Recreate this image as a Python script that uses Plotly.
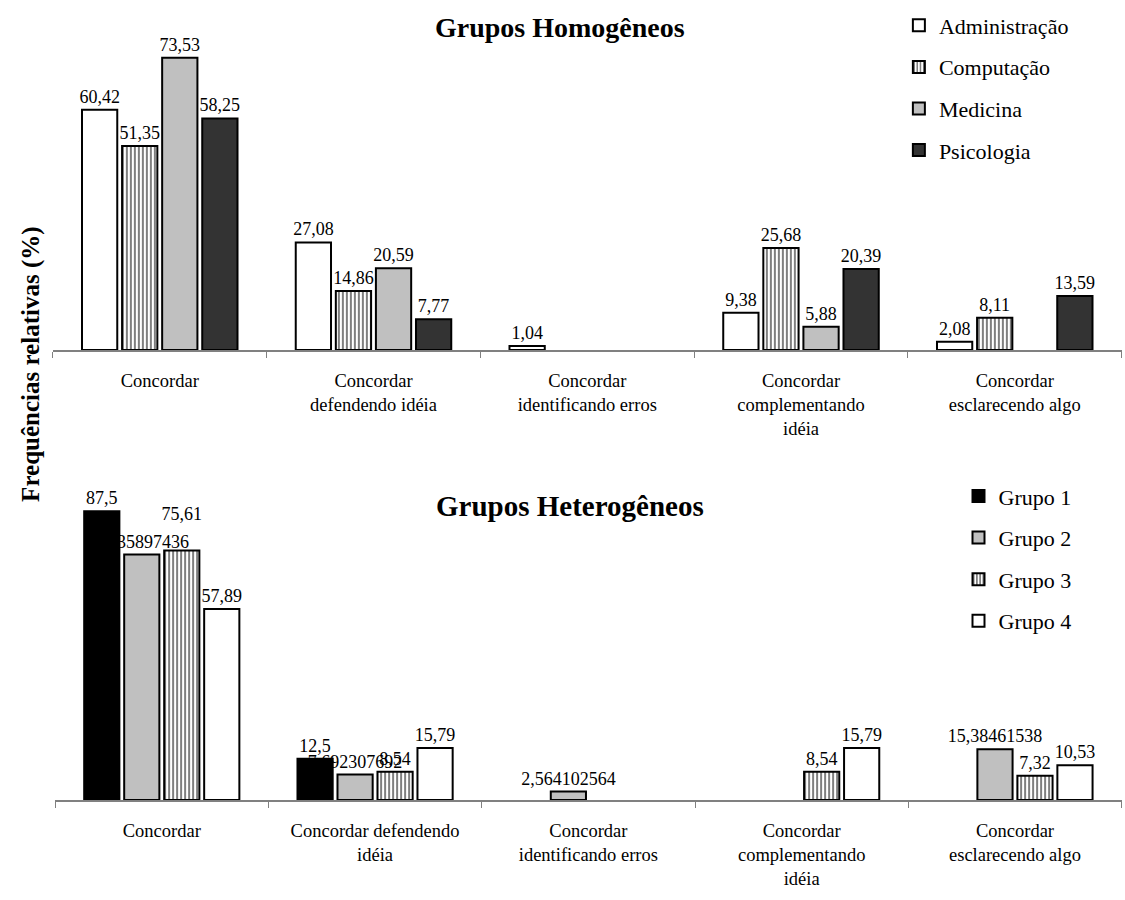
import plotly.graph_objects as go

# Categories (tick labels) for each panel
cat_homog = ["Concordar", "Concordar<br>defendendo idéia", "Concordar<br>identificando erros",
             "Concordar<br>complementando<br>idéia", "Concordar<br>esclarecendo algo"]
cat_heter = ["Concordar", "Concordar defendendo<br>idéia", "Concordar<br>identificando erros",
             "Concordar<br>complementando<br>idéia", "Concordar<br>esclarecendo algo"]

# Homogeneous groups (relative frequencies, %)
administracao = [60.42, 27.08, 1.04, 9.38, 2.08]
computacao = [51.35, 14.86, None, 25.68, 8.11]
medicina = [73.53, 20.59, None, 5.88, None]
psicologia = [58.25, 7.77, None, 20.39, 13.59]

# Heterogeneous groups (relative frequencies, %)
grupo1 = [87.5, 12.5, None, None, None]
grupo2 = [74.35897436, 7.692307692, 2.564102564, None, 15.38461538]
grupo3 = [75.61, 8.54, None, 8.54, 7.32]
grupo4 = [57.89, 15.79, None, 15.79, 10.53]

# Value labels lifted one extra line above their bar to clear a neighbour
LIFTED = {("Grupo 3", 0)}

SERIF = "Liberation Serif, Times New Roman, serif"


def labels(name, vals):
    out = []
    for i, v in enumerate(vals):
        if v is None:
            out.append("")
            continue
        s = str(v).replace(".", ",")
        if (name, i) in LIFTED:
            s += "<br> "
        out.append(s)
    return out


def solid(color):
    return dict(color=color, line=dict(color="black", width=2))


def striped():
    return dict(color="white", line=dict(color="black", width=2),
                pattern=dict(shape="|", fgcolor="black", bgcolor="white", size=4, solidity=0.5))


fig = go.Figure()

top_series = [("Administração", administracao, solid("white")),
              ("Computação", computacao, striped()),
              ("Medicina", medicina, solid("#c0c0c0")),
              ("Psicologia", psicologia, solid("#333333"))]
for name, vals, marker in top_series:
    fig.add_trace(go.Bar(x=cat_homog, y=vals, name=name, marker=marker,
                         text=labels(name, vals), textposition="outside",
                         textfont=dict(family=SERIF, size=18, color="black"),
                         constraintext="none", cliponaxis=False,
                         xaxis="x", yaxis="y", legend="legend", legendgroup=name))

bottom_series = [("Grupo 1", grupo1, solid("black")),
                 ("Grupo 2", grupo2, solid("#c0c0c0")),
                 ("Grupo 3", grupo3, striped()),
                 ("Grupo 4", grupo4, solid("white"))]
for name, vals, marker in bottom_series:
    fig.add_trace(go.Bar(x=cat_heter, y=vals, name=name, marker=marker,
                         text=labels(name, vals), textposition="outside",
                         textfont=dict(family=SERIF, size=18, color="black"),
                         constraintext="none", cliponaxis=False,
                         xaxis="x2", yaxis="y2", legend="legend2", legendgroup=name))

xaxis_common = dict(type="category", showline=True, linecolor="#808080", linewidth=2,
                    ticks="outside", tickson="boundaries", ticklen=6, tickcolor="#808080",
                    ticklabelstandoff=13, showgrid=False, zeroline=False,
                    tickfont=dict(family=SERIF, size=18.5, color="black"))
yaxis_common = dict(showgrid=False, zeroline=False, showticklabels=False, showline=False, ticks="")

fig.update_layout(
    width=1125, height=900,
    margin=dict(l=0, r=0, t=0, b=0),
    paper_bgcolor="white", plot_bgcolor="white",
    barmode="group", bargap=0.25, bargroupgap=0.12,
    xaxis=dict(domain=[0.047, 0.997], anchor="y", **xaxis_common),
    yaxis=dict(domain=[0.6111, 0.9644], range=[0, 80], anchor="x", **yaxis_common),
    xaxis2=dict(domain=[0.049, 0.997], anchor="y2", **xaxis_common),
    yaxis2=dict(domain=[0.1111, 0.4778], range=[0, 100], anchor="x2", **yaxis_common),
    legend=dict(x=0.799, y=0.995, xanchor="left", yanchor="top", tracegroupgap=10,
                font=dict(family=SERIF, size=22, color="black"), bgcolor="rgba(0,0,0,0)",
                itemwidth=30),
    legend2=dict(x=0.852, y=0.472, xanchor="left", yanchor="top", tracegroupgap=10,
                 font=dict(family=SERIF, size=22, color="black"), bgcolor="rgba(0,0,0,0)",
                 itemwidth=30),
    annotations=[
        dict(text="<b>Grupos Homogêneos</b>", x=0.498, y=0.969, xref="paper", yref="paper",
             xanchor="center", yanchor="middle", showarrow=False,
             font=dict(family=SERIF, size=28, color="black")),
        dict(text="<b>Grupos Heterogêneos</b>", x=0.507, y=0.438, xref="paper", yref="paper",
             xanchor="center", yanchor="middle", showarrow=False,
             font=dict(family=SERIF, size=29, color="black")),
        dict(text="<b>Frequências relativas (%)</b>", x=0.027, y=0.595, xref="paper", yref="paper",
             xanchor="center", yanchor="middle", textangle=-90, showarrow=False,
             font=dict(family=SERIF, size=25, color="black")),
    ],
)

fig.write_html("out.html")
